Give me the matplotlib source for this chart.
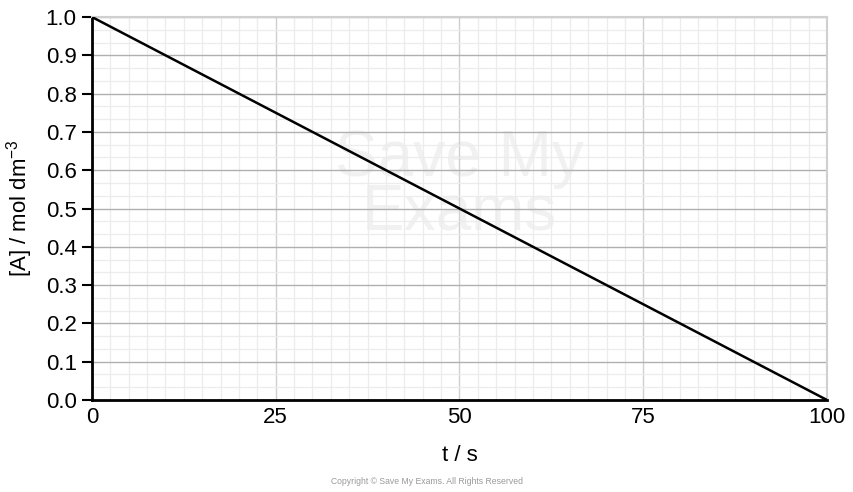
import matplotlib
matplotlib.use("Agg")
import matplotlib.pyplot as plt
from matplotlib.ticker import MultipleLocator

plt.rcParams['font.family'] = ['Liberation Sans', 'DejaVu Sans']
plt.rcParams['mathtext.default'] = 'regular'

# data
t = [0, 100]
conc = [1.0, 0.0]
x_ticks = [0, 25, 50, 75, 100]
y_ticks = [0.0, 0.1, 0.2, 0.3, 0.4, 0.5, 0.6, 0.7, 0.8, 0.9, 1.0]

fig = plt.figure(figsize=(8.54, 4.92), dpi=100)
ax = fig.add_axes([0.1077, 0.187, 0.8607, 0.7784])

ax.set_xlim(0, 100)
ax.set_ylim(0, 1.0)
ax.set_xticks(x_ticks)
ax.set_yticks(y_ticks)
ax.set_yticklabels([f"{v:.1f}" for v in y_ticks])
ax.xaxis.set_minor_locator(MultipleLocator(2.5))
ax.yaxis.set_minor_locator(MultipleLocator(0.1 / 3))

# grid
ax.grid(which='minor', color='#ececec', linewidth=0.9)
ax.grid(which='major', axis='x', color='#cfcfcf', linewidth=1.0)
ax.grid(which='major', axis='y', color='#b0b0b0', linewidth=1.0)
ax.set_axisbelow(True)

for side in ['top', 'right']:
    ax.spines[side].set_color('#d0d0d0')
    ax.spines[side].set_linewidth(1.5)
for side in ['left', 'bottom']:
    ax.spines[side].set_color('black')
    ax.spines[side].set_linewidth(2)

ax.tick_params(axis='y', which='major', length=7, width=1.5, labelsize=16, pad=4)
ax.tick_params(axis='x', which='major', length=0, labelsize=16, pad=5)
ax.tick_params(which='minor', length=0)

# faint watermark
ax.text(0.5, 0.56, "Save My\nExams", transform=ax.transAxes, ha='center', va='center',
        fontsize=46, color='#f1f1f1', linespacing=0.85, zorder=0.5)

ax.plot(t, conc, color='black', linewidth=1.8, zorder=3)

ax.set_xlabel("t / s", fontsize=16, labelpad=12)
ax.set_ylabel("[A] / mol dm$^{-3}$", fontsize=16, labelpad=8)

fig.text(0.5, 0.012, "Copyright © Save My Exams. All Rights Reserved", ha='center',
         va='bottom', fontsize=6.2, color='#999999')

fig.savefig("out.png", dpi=100)
